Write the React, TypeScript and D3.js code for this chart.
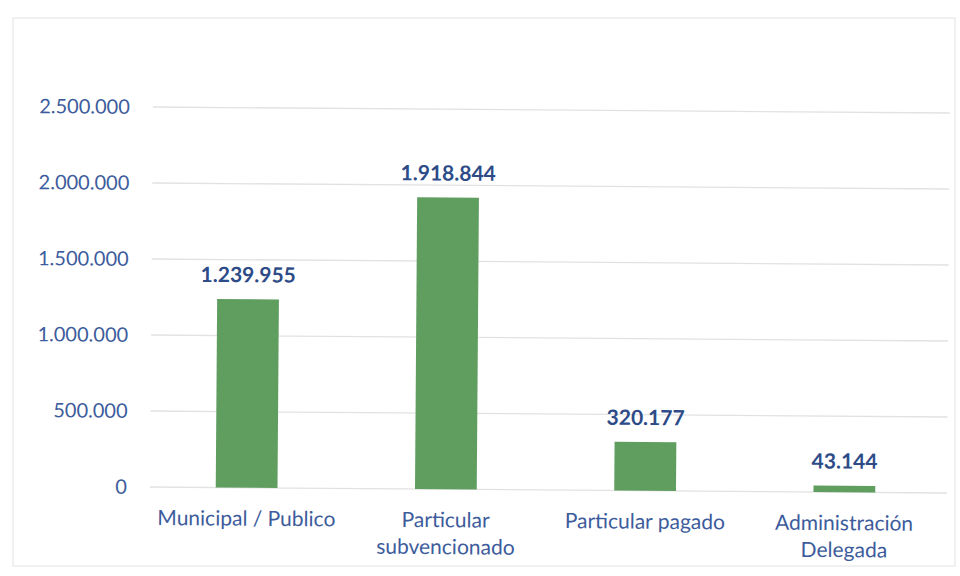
import React from "react";
import * as d3 from "d3";

const categories: string[][] = [
  ["Municipal / Publico"],
  ["Particular", "subvencionado"],
  ["Particular pagado"],
  ["Administración", "Delegada"],
];
const values: number[] = [1239955, 1918844, 320177, 43144];
const yTicks: number[] = [0, 500000, 1000000, 1500000, 2000000, 2500000];

const W = 960;
const H = 576;
const margin = { left: 150, right: 13, top: 107, bottom: 89 };

const fmt = (v: number) => {
  const s = Math.round(v).toString();
  return s.replace(/\B(?=(\d{3})+(?!\d))/g, ".");
};

export default function App() {
  const x = d3
    .scaleBand<number>()
    .domain(values.map((_, i) => i))
    .range([margin.left - 3, W - margin.right - 3])
    .paddingInner(0.69)
    .paddingOuter(0.345);
  const y = d3
    .scaleLinear()
    .domain([0, 2500000])
    .range([H - margin.bottom, margin.top]);

  const font = "Lato, 'Open Sans', sans-serif";
  const tickColor = "#3d5c9c";
  const labelColor = "#2d4b87";
  const barColor = "#609e60";

  return (
    <svg
      width={W}
      height={H}
      style={{ position: "absolute", left: 0, top: 0, background: "#fff" }}
    >
      <rect x={13} y={18} width={942} height={548} fill="none" stroke="#ececec" strokeWidth={1.5} />
      <g transform={`rotate(0.43, ${margin.left}, ${H - margin.bottom})`}>
        {yTicks.map((t) => (
          <g key={t}>
            <line
              x1={margin.left}
              x2={W - margin.right}
              y1={y(t)}
              y2={y(t)}
              stroke="#e2e2e2"
              strokeWidth={1.3}
            />
            <text
              x={127}
              y={y(t)}
              dy="0.35em"
              textAnchor="end"
              fontFamily={font}
              fontSize={20}
              fill={tickColor}
            >
              {fmt(t)}
            </text>
          </g>
        ))}
        {values.map((v, i) => {
          const bx = x(i)!;
          const bw = x.bandwidth();
          return (
            <g key={i}>
              <rect x={bx} y={y(v)} width={bw} height={y(0) - y(v)} fill={barColor} />
              <text
                x={bx + bw / 2}
                y={y(v) - 17}
                textAnchor="middle"
                fontFamily={font}
                fontWeight={700}
                fontSize={21}
                fill={labelColor}
              >
                {fmt(v)}
              </text>
              {categories[i].map((line, j) => (
                <text
                  key={j}
                  x={bx + bw / 2}
                  y={H - margin.bottom + 38 + j * 27}
                  textAnchor="middle"
                  fontFamily={font}
                  fontSize={21}
                  fill={tickColor}
                >
                  {line}
                </text>
              ))}
            </g>
          );
        })}
      </g>
    </svg>
  );
}
